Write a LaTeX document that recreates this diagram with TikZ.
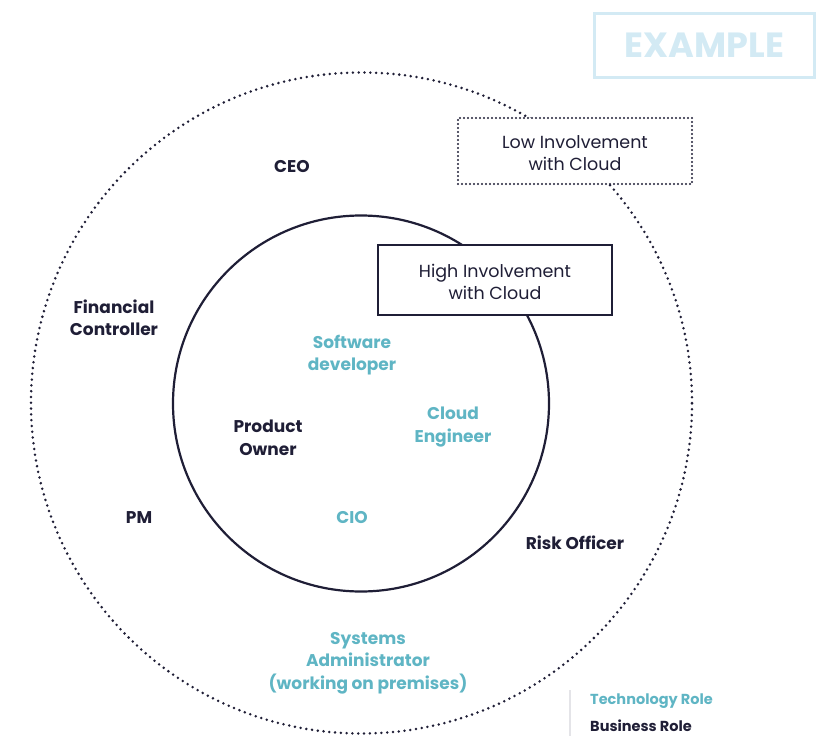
\documentclass[tikz,border=0pt]{standalone}
\usepackage{fontspec}
\setmainfont{Poppins}
\definecolor{ink}{HTML}{1F1E36}
\definecolor{teal}{HTML}{5FB5C4}
\definecolor{pale}{HTML}{D3EAF4}
\definecolor{rule}{HTML}{E4E4E8}
\tikzset{
  role/.style={font=\fontsize{17}{22.5}\selectfont\bfseries, align=center, inner sep=0pt},
  biz/.style={role, text=ink},
  tech/.style={role, text=teal},
  boxlabel/.style={font=\fontsize{17.5}{22.5}\selectfont, align=center, text=ink, inner sep=0pt},
  legendtext/.style={anchor=west, inner sep=0pt, font=\fontsize{14.5}{16}\selectfont\bfseries},
  outerring/.style={draw=ink, line width=2.8pt, line cap=round, dash pattern=on 0pt off 5.8pt},
  innerring/.style={draw=ink, line width=2.2pt},
}
\begin{document}
\begin{tikzpicture}[x=1pt,y=-1pt]
\useasboundingbox (0,0) rectangle (827,736);

% circles of involvement
\node[outerring, circle, minimum size=661pt, inner sep=0pt] (outer) at (361.5,403) {};
\node[innerring, circle, minimum size=376pt, inner sep=0pt] (inner) at (361,403.5) {};

% watermark
\node[draw=pale, line width=3pt, minimum width=220pt, minimum height=64pt, inner sep=0pt,
      text=pale, font=\fontsize{35}{38}\selectfont\bfseries] (example) at (704.5,45) {EXAMPLE};

% circle captions: frame, then its text
\node[draw=ink, fill=white, line width=2.3pt, line cap=round, dash pattern=on 0pt off 4pt,
      minimum width=234pt, minimum height=66pt, inner sep=0pt] (low) at (575,151) {};
\node[boxlabel] (lowtext) at ([yshift=-2pt]low.center) {Low Involvement\\with Cloud};
\node[draw=ink, fill=white, line width=2.7pt,
      minimum width=234pt, minimum height=70pt, inner sep=0pt] (high) at (495,280) {};
\node[boxlabel] (hightext) at ([yshift=-2pt]high.center) {High Involvement\\with Cloud};

% roles
\node[biz]  (ceo)  at (292,167) {CEO};
\node[biz]  (fc)   at (114,318) {Financial\\Controller};
\node[biz]  (pm)   at (139,518) {PM};
\node[biz]  (po)   at (268,438) {Product\\Owner};
\node[tech] (sd)   at (352,355) {Software\\developer};
\node[tech] (ce)   at (453,427) {Cloud\\Engineer};
\node[tech] (cio)  at (352,518) {CIO};
\node[biz]  (risk) at (575,543) {Risk Officer};
\node[tech] (sa)   at (368,663) {Systems\\Administrator\\(working on premises)};

% legend
\coordinate (legtop) at (570,690);
\coordinate (legbot) at (570,736);
\draw[rule, line width=2pt] (legtop) -- (legbot);
\node[legendtext, text=teal] (ltech) at (590,701) {Technology Role};
\node[legendtext, text=ink] (lbiz) at (590,726) {Business Role};
\end{tikzpicture}
\end{document}
